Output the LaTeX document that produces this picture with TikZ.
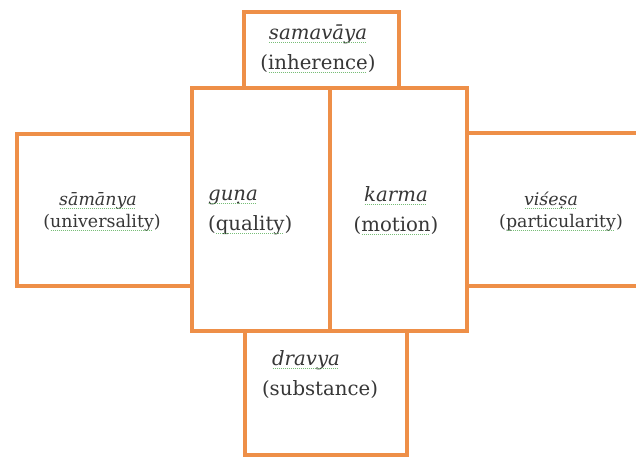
\documentclass[tikz,border=0pt]{standalone}
\usepackage{fontspec}
\setmainfont{DejaVu Serif}
\usepackage{tikz}
\definecolor{boxorange}{RGB}{238,143,72}
\definecolor{textgray}{RGB}{55,55,55}
\definecolor{spellgreen}{RGB}{120,190,120}
% dotted spell-check line under a word
\newcommand{\spl}[1]{\leavevmode\setbox0=\hbox{#1}\rlap{\copy0}\raisebox{-4pt}{\textcolor{spellgreen}{\leaders\hbox to 2pt{\hss\rule{1pt}{0.7pt}\hss}\hskip\wd0}}}

\begin{document}
\begin{tikzpicture}[x=1pt,y=-1pt,
  box/.style={draw=boxorange,line width=3.6pt,fill=white,inner sep=0pt,anchor=north west},
  word/.style={text=textgray,font=\fontsize{19.7}{30}\selectfont,inner sep=0pt},
  sideword/.style={text=textgray,font=\fontsize{17.4}{22}\selectfont,inner sep=0pt}]
\useasboundingbox (0,0) rectangle (636,456);
% outer boxes first
\node[box,minimum width=155,minimum height=76] (samavaya) at (242,10) {};
\node[box,minimum width=175,minimum height=152] (samanya) at (15,132) {};
\node[box,minimum width=200,minimum height=153] (visesa) at (465,131) {};
\node[box,minimum width=162,minimum height=124] (dravya) at (243,329) {};
% middle boxes on top
\node[box,minimum width=138,minimum height=243] (guna) at (190,86) {};
\node[box,minimum width=137,minimum height=243] (karma) at (328,86) {};
% labels
\node[word,align=center] (samavayalbl) at (318,48) {\strut\spl{\textit{samavāya}}\\\strut(\spl{inherence})};
\node[sideword,align=center] (samanyalbl) at (102,211.6) {\strut\spl{\textit{sāmānya}}\hspace*{8pt}\\\strut(\spl{universality})};
\node[word,align=left,anchor=west] (gunalbl) at (208,209) {\strut\spl{\textit{guṇa}}\\\strut(\spl{quality})};
\node[word,align=center] (karmalbl) at (396,210) {\strut\spl{\textit{karma}}\\\strut(\spl{motion})};
\node[sideword,align=center] (visesalbl) at (561,211.6) {\strut\spl{\textit{viśeṣa}}\hspace*{20pt}\\\strut(\spl{particularity})};
\node[word,align=center] (dravyalbl) at (320,374) {\strut\spl{\textit{dravya}}\hspace*{28pt}\\\strut(substance)};
\end{tikzpicture}
\end{document}
